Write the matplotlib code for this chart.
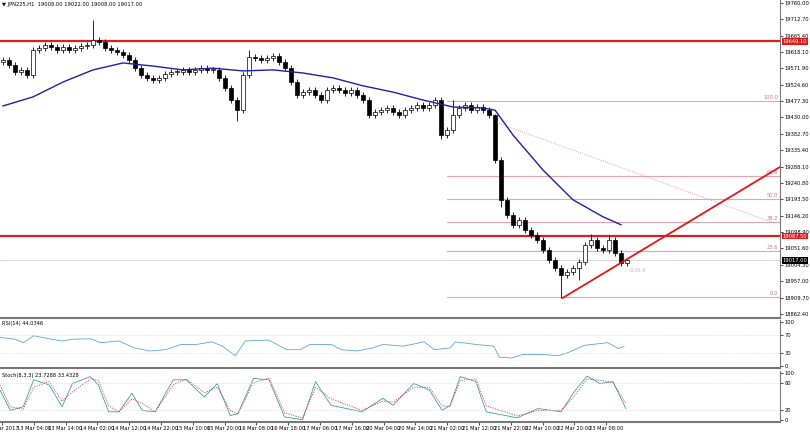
import matplotlib
matplotlib.use("Agg")
import matplotlib.pyplot as plt

# hourly closes
closes = [
    19596, 19581, 19561, 19567, 19552,
    19624, 19630, 19639, 19633, 19624,
    19633, 19624, 19630, 19636, 19639, 19653,
    19647, 19630, 19624, 19619,
    19610, 19596, 19572, 19552, 19544,
    19538, 19544, 19555, 19561, 19561,
    19567, 19561, 19567, 19572, 19567,
    19567, 19544, 19515, 19480, 19451,
    19552, 19604, 19601, 19596, 19601,
    19607, 19590, 19572, 19532, 19495,
    19503, 19509, 19495, 19480, 19509,
    19515, 19509, 19500, 19509, 19495,
    19480, 19437, 19446, 19451, 19457,
    19446, 19437, 19451, 19457, 19466,
    19457, 19466, 19480, 19379, 19394,
    19437, 19457, 19466, 19451, 19460,
    19451, 19437, 19307, 19192, 19148,
    19120, 19134, 19105, 19091, 19076,
    19047, 19019, 18996, 18975, 18984,
    18996, 19013, 19062, 19076, 19053,
    19047, 19076, 19039, 19010, 19017,
]
first_open = 19590
# notable wick extremes {index: price}
highs = {15: 19711, 41: 19625, 75: 19480, 82: 19440, 98: 19092, 101: 19090}
lows = {39: 19420, 73: 19368, 83: 19170, 93: 18909, 96: 18960}

ma_idx = [0, 5, 10, 15, 20, 25, 30, 35, 40, 45, 50, 55, 60, 65, 70, 75, 80, 82, 85, 90, 95, 100, 103]
ma_val = [19463, 19489, 19532, 19567, 19587, 19578, 19567, 19572, 19564, 19567, 19558, 19544,
          19521, 19503, 19480, 19460, 19457, 19451, 19379, 19278, 19192, 19143, 19120]

rsi_idx = [-0.5, 2, 3.4, 5.1, 8.1, 9.8, 11.6, 14.6, 16.3, 19.3, 21.9, 24.5, 27.1, 29.7, 32.3, 34.8,
           36.6, 38.7, 40.4, 44.3, 47.3, 49.5, 51.2, 54.7, 56.4, 59, 61.6, 63.3, 66.7, 70.2, 71.9,
           74.5, 75.4, 78.8, 81.8, 82.7, 84.8, 86.6, 90, 92.6, 94.3, 96.9, 100.8, 102.5, 103.5]
rsi_val = [65, 61, 53, 69, 61, 57, 61, 62, 53, 57, 41, 34, 37, 49, 49, 55, 45, 23, 57, 59, 37, 37,
           49, 49, 37, 34, 41, 49, 45, 55, 37, 41, 55, 49, 45, 20, 18, 26, 26, 23, 31, 47, 53, 40, 44]

st_zx = [0, 20, 45, 65, 95, 120, 140, 175, 190, 210, 230, 255, 275, 300, 335, 360, 395, 420, 445,
         460, 490, 520, 550, 585, 610, 640, 700, 740, 760, 800, 830, 855, 870, 890, 920, 940, 1000,
         1040, 1085, 1110, 1135, 1160, 1185, 1210]
st_main = [64, 20, 28, 86, 75, 28, 78, 93, 75, 17, 17, 57, 20, 17, 86, 86, 49, 78, 9, 13, 89, 86,
           6, 0, 82, 31, 17, 46, 31, 78, 64, 20, 31, 93, 82, 17, 4, 24, 17, 60, 94, 78, 82, 24]
st_sig = [75, 28, 22, 70, 82, 40, 60, 88, 85, 30, 17, 45, 35, 17, 75, 88, 58, 70, 20, 12, 80, 90,
          15, 3, 70, 45, 20, 40, 38, 70, 70, 30, 28, 85, 88, 30, 8, 20, 20, 50, 88, 85, 80, 35]

price_ticks = [19760.00, 19712.70, 19665.40, 19618.10, 19571.90, 19524.60, 19477.30, 19430.00,
               19382.70, 19335.40, 19288.10, 19240.80, 19193.50, 19146.20, 19098.90, 19051.60,
               19004.30, 18957.00, 18909.70, 18862.40]
date_labels = ["10 Mar 2017", "13 Mar 04:00", "13 Mar 14:00", "14 Mar 02:00", "14 Mar 12:00",
               "14 Mar 22:00", "15 Mar 10:00", "15 Mar 20:00", "16 Mar 08:00", "16 Mar 18:00",
               "17 Mar 06:00", "17 Mar 16:00", "20 Mar 04:00", "20 Mar 14:00", "21 Mar 02:00",
               "21 Mar 12:00", "21 Mar 22:00", "22 Mar 10:00", "22 Mar 20:00", "23 Mar 08:00"]

resist, support, last = 19649.10, 19087.50, 19017.00
fib_hi, fib_lo, fib_start = 19477.3, 18911.0, 74
fib_levels = [100.0, 61.8, 50.0, 38.2, 23.6, 0.0]
trend = ([93.3, 129.5], [18909, 19287])
dotted = ([82, 128.5], [19417, 19125])

W, H = 810, 432
fig = plt.figure(figsize=(8.1, 4.32), dpi=100)
fs = 3.7
px = lambda x0, y0, x1, y1: [x0 / W, 1 - y1 / H, (x1 - x0) / W, (y1 - y0) / H]
ax = fig.add_axes(px(0, 0, 780, 318))
ax_rsi = fig.add_axes(px(0, 320, 780, 368))
ax_st = fig.add_axes(px(0, 371, 780, 422))
xlim = (-0.5, 129.5)

# candles
opens = [first_open] + closes[:-1]
for i, (o, c) in enumerate(zip(opens, closes)):
    hi = highs.get(i, max(o, c) + 8)
    lo = lows.get(i, min(o, c) - 8)
    ax.vlines(i, lo, hi, color="black", lw=0.6, zorder=3)
    bull = c >= o
    ax.bar(i, max(abs(c - o), 2), bottom=min(o, c), width=0.6,
           color="white" if bull else "black", edgecolor="black", lw=0.5, zorder=4)

ax.plot(ma_idx, ma_val, color="#1f1fa8", lw=1.0, zorder=5)
ax.axhline(resist, color="#d42020", lw=1.6, zorder=2)
ax.axhline(support, color="#d42020", lw=1.6, zorder=2)
ax.axhline(last, color="#c8c8c8", lw=0.5, zorder=1)
for lv in fib_levels:
    p = fib_lo + (fib_hi - fib_lo) * lv / 100
    ax.plot([fib_start, xlim[1]], [p, p], color="#e9a3b0", lw=0.8, zorder=1)
    ax.text(xlim[1] - 0.3, p + 3, f"{lv:.1f}", color="#d07080", fontsize=fs, ha="right", va="bottom")
ax.plot(*trend, color="#e01818", lw=1.3, zorder=6)
ax.plot(*dotted, color="#e08080", lw=0.6, ls=":", zorder=2)
ax.text(104.5, 18985, "0.36.9", color="#bbbbbb", fontsize=fs)

ax.set_xlim(*xlim)
ax.set_ylim(18851, 19768.7)
ax.yaxis.tick_right()
ax.set_yticks(price_ticks)
ax.set_yticklabels([f"{t:.2f}" for t in price_ticks], fontsize=fs)
ax.set_xticks([])
for val, bg in ((resist, "#e01818"), (support, "#e01818"), (last, "black")):
    ax.text(1.003, val, f"{val:.2f}", transform=ax.get_yaxis_transform(), fontsize=fs,
            color="white", va="center", ha="left",
            bbox=dict(boxstyle="square,pad=0.15", fc=bg, ec="none"))
ax.text(0.003, 0.995, "▼ JPN225,H1  19008.00 19022.00 19008.00 19017.00", transform=ax.transAxes,
        fontsize=fs, va="top")

# RSI
ax_rsi.plot(rsi_idx, rsi_val, color="#5aa6d8", lw=0.6)
for lv in (70, 30):
    ax_rsi.axhline(lv, color="#d8d8d8", lw=0.5, ls=(0, (2, 2)))
ax_rsi.set_xlim(*xlim)
ax_rsi.set_ylim(-5, 105)
ax_rsi.yaxis.tick_right()
ax_rsi.set_yticks([0, 30, 70, 100])
ax_rsi.set_xticks([])
ax_rsi.text(0.003, 0.97, "RSI(14) 44.0346", transform=ax_rsi.transAxes, fontsize=fs, va="top")

# Stochastic
st_idx = [zx / 11.6 - 0.5 for zx in st_zx]
ax_st.plot(st_idx, st_main, color="#3a9f9f", lw=0.6)
ax_st.plot(st_idx, st_sig, color="#d04040", lw=0.6, ls=(0, (1.5, 1.5)))
for lv in (80, 20):
    ax_st.axhline(lv, color="#d8d8d8", lw=0.5, ls=(0, (2, 2)))
ax_st.set_xlim(*xlim)
ax_st.set_ylim(-5, 105)
ax_st.yaxis.tick_right()
ax_st.set_yticks([0, 20, 80, 100])
ax_st.text(0.003, 0.97, "Stoch(8,3,3) 23.7288 33.4328", transform=ax_st.transAxes, fontsize=fs, va="top")
ax_st.set_xticks([(31.8 * k + 2) / 6 - 0.5 for k in range(len(date_labels))])
ax_st.set_xticklabels(date_labels, fontsize=fs)

for a in (ax, ax_rsi, ax_st):
    a.tick_params(axis="y", labelsize=fs, length=2, width=0.5, pad=1)
    a.tick_params(axis="x", length=2, width=0.5, pad=1)
    for side in ("top", "left"):
        a.spines[side].set_visible(False)
    a.spines["bottom"].set_color("#777777")
    a.spines["right"].set_color("#777777")
    a.spines["bottom"].set_linewidth(1.5)

fig.savefig("out.png", dpi=100)
